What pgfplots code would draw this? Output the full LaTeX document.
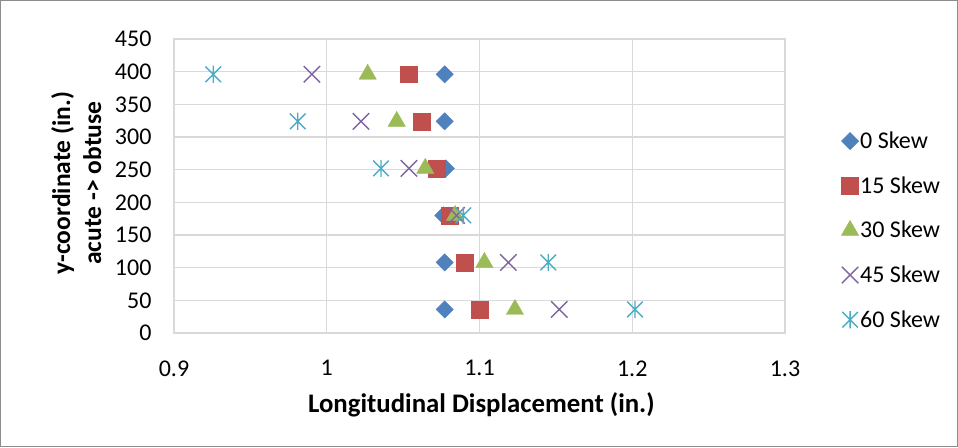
\documentclass[border=0pt]{standalone}
\usepackage{pgfplots}
\pgfplotsset{compat=1.18}
\usepackage{fontspec}
\setmainfont{Carlito}
\definecolor{c0}{HTML}{4F81BD}
\definecolor{c1}{HTML}{C0504D}
\definecolor{c2}{HTML}{9BBB59}
\definecolor{c3}{HTML}{8064A2}
\definecolor{c4}{HTML}{4BACC6}
\definecolor{gridc}{HTML}{D9D9D9}
\pgfdeclareplotmark{xcross}{%
  \pgfpathmoveto{\pgfqpoint{-\pgfplotmarksize}{-\pgfplotmarksize}}%
  \pgfpathlineto{\pgfqpoint{\pgfplotmarksize}{\pgfplotmarksize}}%
  \pgfpathmoveto{\pgfqpoint{-\pgfplotmarksize}{\pgfplotmarksize}}%
  \pgfpathlineto{\pgfqpoint{\pgfplotmarksize}{-\pgfplotmarksize}}%
  \pgfusepathqstroke}
\pgfdeclareplotmark{xstar}{%
  \pgfpathmoveto{\pgfqpoint{-\pgfplotmarksize}{-\pgfplotmarksize}}%
  \pgfpathlineto{\pgfqpoint{\pgfplotmarksize}{\pgfplotmarksize}}%
  \pgfpathmoveto{\pgfqpoint{-\pgfplotmarksize}{\pgfplotmarksize}}%
  \pgfpathlineto{\pgfqpoint{\pgfplotmarksize}{-\pgfplotmarksize}}%
  \pgfpathmoveto{\pgfqpoint{0pt}{-1.1\pgfplotmarksize}}%
  \pgfpathlineto{\pgfqpoint{0pt}{1.1\pgfplotmarksize}}%
  \pgfusepathqstroke}
\begin{document}
\begin{tikzpicture}
\useasboundingbox (0pt,0pt) rectangle (958pt,447pt);
\draw[color=black!45, line width=1pt] (0.5pt,0.5pt) rectangle (957.5pt,446.5pt);
\begin{axis}[
  at={(174pt,114pt)}, anchor=south west,
  scale only axis, width=611pt, height=294pt,
  xmin=0.9, xmax=1.3, ymin=0, ymax=450,
  xtick={0.9,1,1.1,1.2,1.3},
  ytick={0,50,100,150,200,250,300,350,400,450},
  xticklabels={0.9,1,1.1,1.2,1.3},
  grid=major,
  major grid style={color=gridc, line width=1.3pt},
  axis line style={color=gridc, line width=1.3pt},
  major tick length=0pt,
  tick style={draw=none},
  /pgf/number format/assume math mode=true,
  ticklabel style={font=\fontsize{24}{26}\selectfont, color=black},
  xticklabel style={yshift=-24pt},
  yticklabel style={xshift=-19pt},
  xlabel={Longitudinal Displacement (in.)},
  ylabel={y-coordinate (in.)\\acute -> obtuse},
  xlabel style={font=\bfseries\fontsize{26.8}{28}\selectfont, at={(axis description cs:0.503,-0.245)}, anchor=center},
  ylabel style={font=\bfseries\fontsize{25.5}{31}\selectfont, align=center, at={(axis description cs:-0.160,0.51)}, anchor=center},
  legend cell align=left,
  legend style={draw=none, fill=none, at={(axis description cs:1.092,0.349)}, anchor=west,
    font=\fontsize{24}{26}\selectfont, row sep=23.5pt, inner sep=0pt,
    nodes={inner sep=1.5pt}},
  legend image code/.code={\draw plot coordinates {(6pt,0pt)}; \path (14pt,0pt);},
  clip=false,
]
\addplot[only marks, mark=square*, mark size=6.1pt, color=c0, mark options={rotate=45, fill=c0, draw=c0, line width=0.4pt}] coordinates {
(1.0772,396) (1.0772,324) (1.0780,252) (1.0763,180) (1.0772,108) (1.0772,36)};
\addlegendentry{0 Skew}
\addplot[only marks, mark=square*, mark size=8.4pt, color=c1, mark options={fill=c1, draw=c1, line width=0.4pt}] coordinates {
(1.0534,396) (1.0624,324) (1.0720,252) (1.0807,180) (1.0903,108) (1.1001,36)};
\addlegendentry{15 Skew}
\addplot[only marks, mark=triangle*, mark size=10pt, color=c2, mark options={fill=c2, draw=c2, line width=0.4pt}] coordinates {
(1.0268,396) (1.0458,324) (1.0645,252) (1.0840,180) (1.1032,108) (1.1232,36)};
\addlegendentry{30 Skew}
\addplot[only marks, mark=xcross, mark size=8.2pt, color=c3, mark options={draw=c3, line width=1.4pt}] coordinates {
(0.9903,396) (1.0224,324) (1.0538,252) (1.0850,180) (1.1189,108) (1.1522,36)};
\addlegendentry{45 Skew}
\addplot[only marks, mark=xstar, mark size=7.8pt, color=c4, mark options={draw=c4, line width=1.4pt}] coordinates {
(0.9257,396) (0.9810,324) (1.0355,252) (1.0894,180) (1.1450,108) (1.2018,36)};
\addlegendentry{60 Skew}
\end{axis}
\end{tikzpicture}
\end{document}
